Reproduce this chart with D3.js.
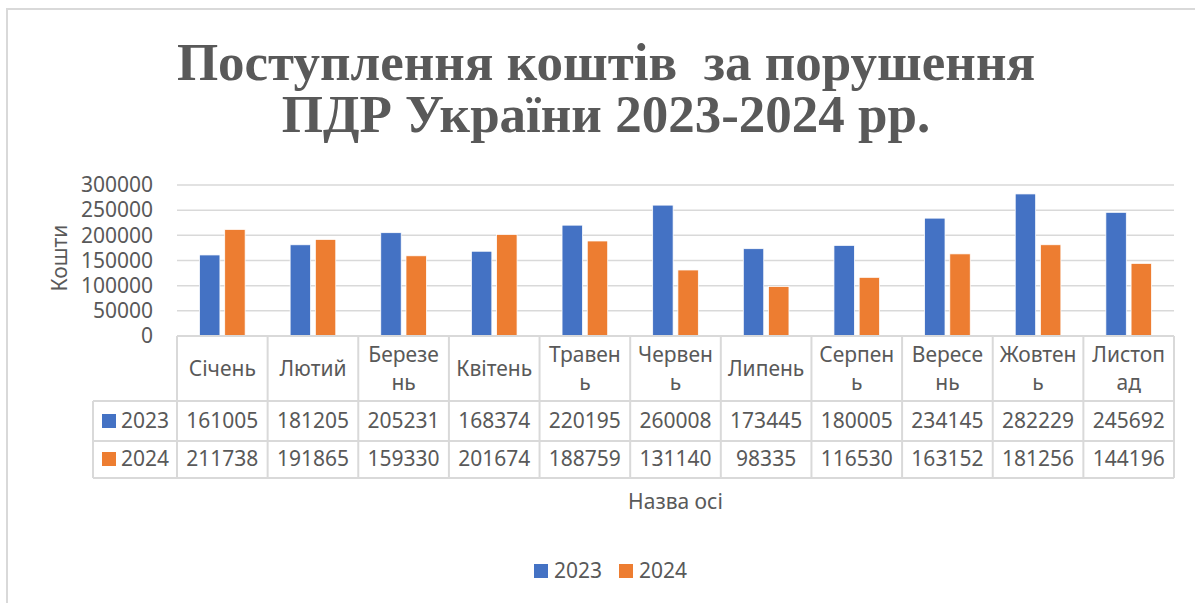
<!DOCTYPE html>
<html>
<head>
<meta charset="utf-8">
<script src="https://cdn.jsdelivr.net/npm/d3@7"></script>
<style>
  body { margin: 0; background: #fff; }
  text { fill: #595959; }
</style>
</head>
<body>
<script>
var months = ["Січень", "Лютий", "Березень", "Квітень", "Травень", "Червень",
    "Липень", "Серпень", "Вересень", "Жовтень", "Листопад"];
// labels as they wrap inside the table cells
var monthLines = [["Січень"], ["Лютий"], ["Березе", "нь"], ["Квітень"], ["Травен", "ь"],
    ["Червен", "ь"], ["Липень"], ["Серпен", "ь"], ["Вересе", "нь"], ["Жовтен", "ь"], ["Листоп", "ад"]];
var years = ["2023", "2024"];
var values2023 = [161005, 181205, 205231, 168374, 220195, 260008, 173445, 180005, 234145, 282229, 245692];
var values2024 = [211738, 191865, 159330, 201674, 188759, 131140, 98335, 116530, 163152, 181256, 144196];
var yTicks = [0, 50000, 100000, 150000, 200000, 250000, 300000];
var colors = ["#4472C4", "#ED7D31"];

var series = [values2023, values2024];

var W = 1195, H = 603;
var svg = d3.select("body").append("svg")
    .attr("width", W)
    .attr("height", H);

var font = "'Noto Sans', 'Open Sans', sans-serif";
var grid = "#D9D9D9";

// chart border
svg.append("rect")
    .attr("x", 7).attr("y", 9)
    .attr("width", W + 20).attr("height", H + 20)
    .attr("fill", "none")
    .attr("stroke", grid)
    .attr("stroke-width", 2);

var plot = { left: 177, right: 1174, top: 185, bottom: 336 };

var x0 = d3.scaleBand()
    .domain(months)
    .range([plot.left, plot.right]);

var x1 = d3.scaleBand()
    .domain(years)
    .range([22.5, x0.bandwidth() - 22.5])
    .paddingInner(0.19);

var y = d3.scaleLinear()
    .domain([0, 300000])
    .range([plot.bottom, plot.top]);

// title
var title = svg.append("text")
    .attr("text-anchor", "middle")
    .style("font-family", "'Liberation Serif', 'Times New Roman', serif")
    .style("font-weight", "bold")
    .style("font-size", "53px")
    .style("white-space", "pre");
title.append("tspan").attr("x", 606).attr("y", 80).text("Поступлення коштів  за порушення");
title.append("tspan").attr("x", 606).attr("y", 132).text("ПДР України 2023-2024 рр.");

// gridlines
svg.append("g")
    .selectAll("line")
    .data(yTicks.slice(1))
    .enter().append("line")
    .attr("x1", plot.left).attr("x2", plot.right)
    .attr("y1", function (d) { return y(d); })
    .attr("y2", function (d) { return y(d); })
    .attr("stroke", grid)
    .attr("stroke-width", 1.5);

// y axis labels
var yAxis = svg.append("g")
    .attr("transform", "translate(" + (plot.left - 10) + ",0)")
    .call(d3.axisLeft(y).tickValues(yTicks).tickSize(0).tickPadding(14).tickFormat(d3.format("d")));
yAxis.select(".domain").remove();
yAxis.selectAll("text")
    .style("font-family", font)
    .style("font-size", "21px")
    .attr("fill", "#595959");

svg.append("text")
    .attr("transform", "translate(60,258) rotate(-90)")
    .attr("text-anchor", "middle")
    .attr("dy", "0.35em")
    .style("font-family", font)
    .style("font-size", "21px")
    .text("Кошти");

// bars
var groups = svg.append("g")
    .selectAll("g")
    .data(months)
    .enter().append("g")
    .attr("transform", function (d) { return "translate(" + x0(d) + ",0)"; });

groups.selectAll("rect")
    .data(function (d, i) { return years.map(function (yr, j) { return { year: yr, value: series[j][i] }; }); })
    .enter().append("rect")
    .attr("x", function (d) { return x1(d.year); })
    .attr("width", x1.bandwidth())
    .attr("y", function (d) { return y(d.value); })
    .attr("height", function (d) { return y(0) - y(d.value); })
    .attr("fill", function (d, j) { return colors[j]; })
    .attr("stroke", "#fff")
    .attr("stroke-width", 0.75);

// data table
var rowHead = 93;
var rows = [336, 401, 441, 478];
var table = svg.append("g")
    .attr("stroke", grid)
    .attr("stroke-width", 2);

table.append("line")
    .attr("x1", plot.left).attr("x2", plot.right)
    .attr("y1", rows[0]).attr("y2", rows[0]);
rows.slice(1).forEach(function (ry) {
    table.append("line")
        .attr("x1", rowHead).attr("x2", plot.right)
        .attr("y1", ry).attr("y2", ry);
});
table.append("line")
    .attr("x1", rowHead).attr("x2", rowHead)
    .attr("y1", rows[1]).attr("y2", rows[3]);
months.forEach(function (m) {
    table.append("line")
        .attr("x1", x0(m)).attr("x2", x0(m))
        .attr("y1", rows[0]).attr("y2", rows[3]);
});
table.append("line")
    .attr("x1", plot.right).attr("x2", plot.right)
    .attr("y1", rows[0]).attr("y2", rows[3]);

var cellText = svg.append("g")
    .attr("text-anchor", "middle")
    .style("font-family", font)
    .style("font-size", "21px");

monthLines.forEach(function (lines, i) {
    var cx = x0(months[i]) + x0.bandwidth() / 2;
    var top = lines.length === 1 ? 369 : 355;
    lines.forEach(function (line, k) {
        cellText.append("text")
            .attr("x", cx)
            .attr("y", top + k * 28)
            .attr("dy", "0.35em")
            .text(line);
    });
});

var rowCenters = [421, 459];
series.forEach(function (vals, j) {
    vals.forEach(function (v, i) {
        cellText.append("text")
            .attr("x", x0(months[i]) + x0.bandwidth() / 2)
            .attr("y", rowCenters[j])
            .attr("dy", "0.35em")
            .text(v);
    });
    svg.append("rect")
        .attr("x", 102).attr("y", rowCenters[j] - 7)
        .attr("width", 14).attr("height", 14)
        .attr("fill", colors[j]);
    svg.append("text")
        .attr("x", 121).attr("y", rowCenters[j])
        .attr("dy", "0.35em")
        .style("font-family", font)
        .style("font-size", "21px")
        .text(years[j]);
});

// axis title
svg.append("text")
    .attr("x", (plot.left + plot.right) / 2)
    .attr("y", 502)
    .attr("dy", "0.35em")
    .attr("text-anchor", "middle")
    .style("font-family", font)
    .style("font-size", "21px")
    .text("Назва осі");

// legend
var legend = svg.append("g")
    .selectAll("g")
    .data(years)
    .enter().append("g")
    .attr("transform", function (d, i) { return "translate(" + (534 + i * 85) + ",571)"; });
legend.append("rect")
    .attr("y", -7)
    .attr("width", 14).attr("height", 14)
    .attr("fill", function (d, i) { return colors[i]; });
legend.append("text")
    .attr("x", 20)
    .attr("dy", "0.35em")
    .style("font-family", font)
    .style("font-size", "21px")
    .text(function (d) { return d; });
</script>
</body>
</html>
